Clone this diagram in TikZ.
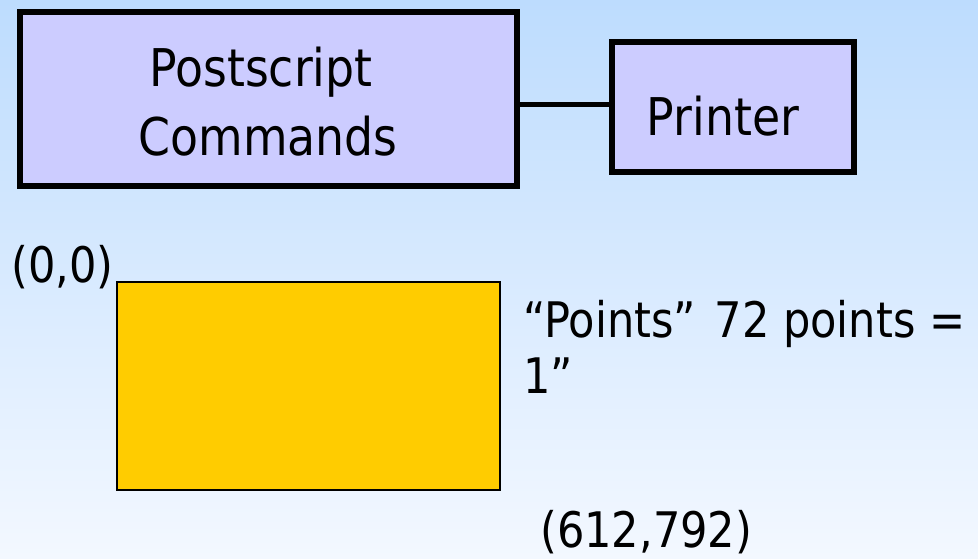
\documentclass[tikz,border=0pt]{standalone}
\usepackage{fontspec}
\setmainfont{DejaVu Sans}[FakeStretch=0.88]
\definecolor{bgtop}{HTML}{BDDCFE}
\definecolor{bgbot}{HTML}{F3F8FF}
\definecolor{lavender}{HTML}{CCCCFF}
\definecolor{gold}{HTML}{FFCC00}
\begin{document}
\begin{tikzpicture}[x=1pt,y=-1pt,
  every node/.style={inner sep=0pt},
  boxtext/.style={font=\fontsize{52}{60}\selectfont, anchor=base},
  pagetext/.style={font=\fontsize{49}{58}\selectfont, anchor=base west},
  blockbox/.style={draw=black, line width=6pt, fill=lavender},
  link/.style={draw=black, line width=5pt},
  pagebox/.style={draw=black, line width=1.8pt, fill=gold}]
  % background gradient
  \shade[top color=bgtop, bottom color=bgbot] (0,0) rectangle (978,558);
  \useasboundingbox (0,0) rectangle (978,558);
  % top row: commands box feeding the printer
  \path[blockbox] (20,12) rectangle (517,186);
  \node[boxtext] (cmd1) at (261,86) {Postscript};
  \node[boxtext] (cmd2) at (268,155) {Commands};
  \path[blockbox] (612,42) rectangle (854,172);
  \node[boxtext] (prn) at (723,135) {Printer};
  \coordinate (cmdE) at (517,104);
  \coordinate (prnW) at (612,104);
  \draw[link] (cmdE) -- (prnW);
  % page in point coordinates
  \node[pagetext] (origin) at (11,282) {(0,0)};
  \path[pagebox] (117,282) rectangle (500,490);
  \node[pagetext] (unit) at (523,337) {“Points”\ \hspace{0.1em}72 points =};
  \node[pagetext] (unit2) at (523,393) {1”};
  \node[pagetext] (corner) at (540,547) {(612,792)};
\end{tikzpicture}
\end{document}
